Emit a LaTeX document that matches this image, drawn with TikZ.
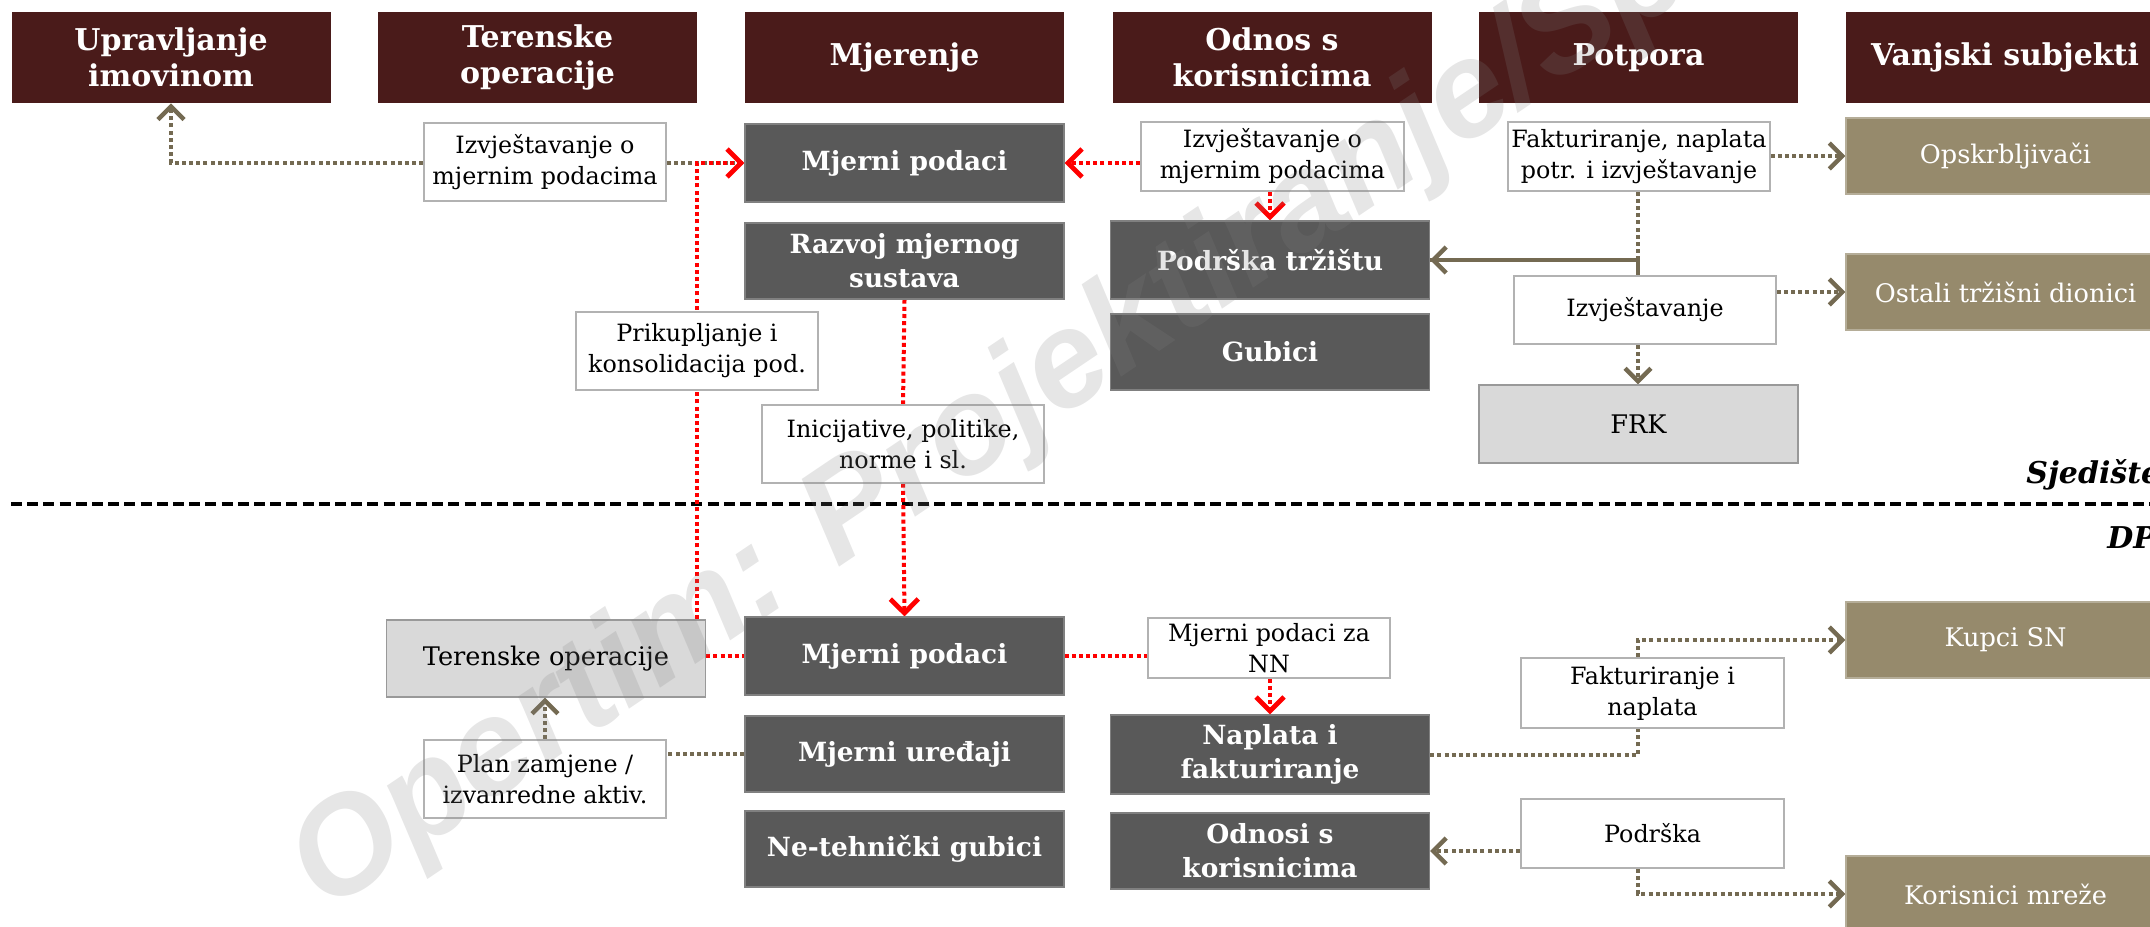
\documentclass[tikz,border=0pt]{standalone}
\usepackage{fontspec}
\setmainfont{DejaVu Serif}
\setsansfont{Liberation Sans}
\usetikzlibrary{arrows.meta,backgrounds}

\definecolor{hdrred}{HTML}{4A1B1A}
\definecolor{unitgray}{HTML}{595959}
\definecolor{greybox}{HTML}{D9D9D9}
\definecolor{extcol}{HTML}{968A6C}
\definecolor{flowcol}{HTML}{746A52}

\newcommand{\hdrfont}{\fontsize{15}{18}\selectfont\bfseries}
\newcommand{\unitfont}{\fontsize{13.2}{17}\selectfont\bfseries}
\newcommand{\lblfont}{\fontsize{11.9}{15.5}\selectfont}
\newcommand{\boxfont}{\fontsize{12.8}{16}\selectfont}

\tikzset{
  hdr/.style={fill=hdrred, text=white, font=\hdrfont, align=center, inner sep=0pt,
              minimum width=159.5pt, minimum height=45.5pt},
  unit/.style={fill=unitgray, draw=gray, line width=0.6pt, text=white, font=\unitfont,
               align=center, inner sep=0pt, minimum width=159.5pt, minimum height=39pt},
  greyunit/.style={fill=greybox, draw=gray!80, line width=0.6pt, font=\boxfont,
               align=center, inner sep=0pt, minimum width=159.5pt, minimum height=39pt},
  ext/.style={fill=extcol, draw=extcol!70!white, line width=0.6pt, text=white, font=\boxfont,
              align=center, inner sep=0pt, minimum width=159.5pt, minimum height=38pt},
  lbl/.style={fill=white, draw=gray!60, line width=0.6pt, font=\lblfont, align=center,
              inner sep=0pt},
  flow/.style={draw=flowcol, line width=2pt, dash pattern=on 2pt off 1.6pt,
               >={Straight Barb[length=6.5pt,width=13pt,line width=2.2pt]}},
  data/.style={draw=red, line width=2pt, dash pattern=on 2pt off 1.6pt,
               >={Straight Barb[length=7pt,width=14pt,line width=2.4pt]}},
  divider/.style={line width=2pt, dash pattern=on 5.5pt off 2.6pt},
  stamp/.style={font=\sffamily\bfseries\itshape\fontsize{68}{68}\selectfont, text=gray,
                opacity=0.2, rotate=34, anchor=base west, inner sep=0pt},
  site/.style={font=\fontsize{15}{15}\selectfont\bfseries\itshape, anchor=base west, inner sep=0pt}
}

\begin{document}
\begin{tikzpicture}[x=0.5pt,y=-0.5pt]
\useasboundingbox (0,0) rectangle (2150,926);
\clip (0,0) rectangle (2150,926);

% column headers
\node[hdr] (h1) at (171,57.5)    {Upravljanje\\imovinom};
\node[hdr] (h2) at (537.5,57.5)  {Terenske\\operacije};
\node[hdr] (h3) at (904.5,57.5)  {Mjerenje};
\node[hdr] (h4) at (1272,57.5)   {Odnos s\\korisnicima};
\node[hdr] (h5) at (1638.5,57.5) {Potpora};
\node[hdr] (h6) at (2005,57.5)   {Vanjski subjekti};

% upper part
\node[unit] (mp1) at (904.5,163) {Mjerni podaci};
\node[unit, minimum height=38pt] (rms) at (904.5,261) {Razvoj mjernog\\sustava};
\node[unit] (pt) at (1270,260) {Podrška tržištu};
\node[unit, minimum height=38pt] (gub) at (1270,352) {Gubici};
\node[greyunit] (frk) at (1638.5,424) {FRK};
\node[ext] (ops) at (2005.5,156) {Opskrbljivači};
\node[ext] (otd) at (2005.5,292) {Ostali tržišni dionici};

\node[lbl, minimum width=121pt, minimum height=39pt] (l2) at (545,162) {Izvještavanje o\\mjernim podacima};
\node[lbl, minimum width=121pt, minimum height=39pt] (lpk) at (697,351) {Prikupljanje i\\konsolidacija pod.};
\node[lbl, minimum width=141pt, minimum height=39pt] (lin) at (903,444) {Inicijative, politike,\\norme i sl.};
\node[lbl, minimum width=131.5pt, minimum height=34.5pt] (l4) at (1272.5,156.5) {Izvještavanje o\\mjernim podacima};
\node[lbl, minimum width=131pt, minimum height=34.5pt] (lfn) at (1639,156.5) {Fakturiranje, naplata\\potr. i izvještavanje};
\node[lbl, minimum width=131pt, minimum height=34pt] (liz) at (1645,310) {Izvještavanje};

% lower part
\node[greyunit, minimum height=38.5pt] (teren) at (546,658.5) {Terenske operacije};
\node[unit] (mp2) at (904.5,656) {Mjerni podaci};
\node[unit, minimum height=38pt] (mu) at (904.5,754) {Mjerni uređaji};
\node[unit, minimum height=38pt] (ntg) at (904.5,849) {Ne-tehnički gubici};
\node[unit, minimum height=39.5pt] (nf) at (1270,754.5) {Naplata i\\fakturiranje};
\node[unit, minimum height=38pt] (ok) at (1270,851) {Odnosi s\\korisnicima};
\node[ext] (ksn) at (2005.5,640) {Kupci SN};
\node[ext] (km) at (2005.5,894) {Korisnici mreže};

\node[lbl, minimum width=121pt, minimum height=39pt] (lpz) at (545,779) {Plan zamjene /\\izvanredne aktiv.};
\node[lbl, minimum width=121pt, minimum height=30pt] (lnn) at (1269,648) {Mjerni podaci za\\NN};
\node[lbl, minimum width=131.5pt, minimum height=35pt] (lfi) at (1652.5,693) {Fakturiranje i\\naplata};
\node[lbl, minimum width=131.5pt, minimum height=34.5pt] (lpo) at (1652.5,833.5) {Podrška};

\coordinate (spine) at (1638,0);

\node[site] (hq) at (2026,483) {Sjedište};
\node[site] (dp) at (2107,548) {DP};

\begin{scope}[on background layer]
  \draw[divider] (11,504) -- (2150,504);

  % reporting lines
  \draw[flow,->] (l2.west |- mp1) -- (h1 |- mp1) -- (h1.south);
  \draw[flow] (l2.east |- mp1) -- (mp1.west);
  \draw[flow,->] (lfn.east |- ops) -- (ops.west);
  \draw[flow,->] (spine |- lfn.south) -- (spine |- pt.east) -- (pt.east);
  \draw[flow,solid,line width=1.6pt] (spine |- liz.north) -- (spine |- pt.east) -- (pt.east);
  \draw[flow,->] (spine |- liz.south) -- (spine |- frk.north);
  \draw[flow,->] (liz.east |- otd) -- (otd.west);
  \draw[flow] (mu.west) -- (lpz.east |- mu.west);
  \draw[flow,->] (lpz.north) -- (lpz.north |- teren.south);
  \draw[flow] (nf.east) -- (spine |- nf.east) -- (spine |- lfi.south);
  \draw[flow,->] (spine |- lfi.north) -- (spine |- ksn.west) -- (ksn.west);
  \draw[flow,->] (lpo.west |- ok) -- (ok.east);
  \draw[flow,->] (spine |- lpo.south) -- (spine |- km.west) -- (km.west);

  % metering data
  \draw[data,->] (lpk |- teren.north) -- (lpk |- mp1.west) -- (mp1.west);
  \draw[data] (teren.east |- mp2) -- (mp2.west);
  \draw[data] (mp2.east) -- (lnn.west |- mp2.east);
  \draw[data,->] (l4.west |- mp1) -- (mp1.east);
  \draw[data,->] (l4.south -| pt) -- (pt.north);
  \draw[data] (rms.south) -- (lin.north);
  \draw[data,->] (lin.south) -- (mp2.north);
  \draw[data,->] (lnn.south -| nf) -- (nf.north);
\end{scope}

\node[stamp] (stamp) at (326,914) {Opertim: Projektiranje/Sp};
\end{tikzpicture}
\end{document}
